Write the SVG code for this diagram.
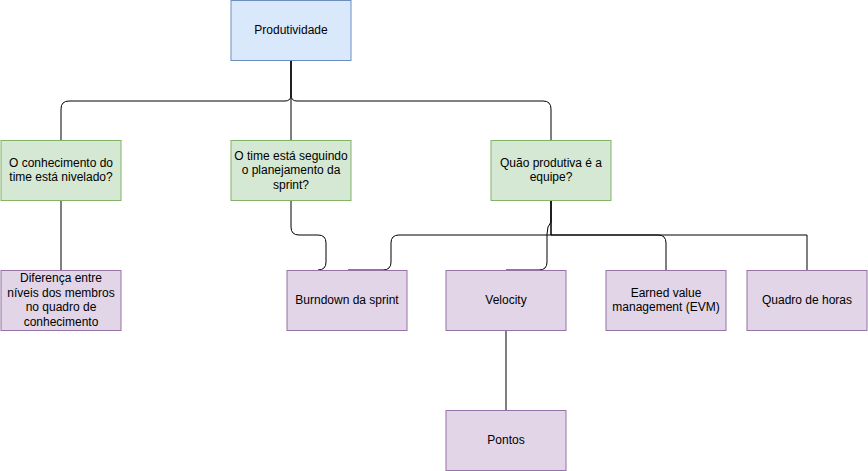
<svg xmlns="http://www.w3.org/2000/svg" width="868" height="471" viewBox="0 0 868 471">
<style>
rect{stroke-width:1}
.b{fill:#dae8fc;stroke:#6c8ebf}
.g{fill:#d5e8d4;stroke:#82b366}
.p{fill:#e1d5e7;stroke:#9673a6}
text{font-family:"Liberation Sans",Arial,Helvetica,sans-serif;font-size:12px;fill:#000;text-anchor:middle}
.e path{fill:none;stroke:#000;stroke-width:1}
</style>
<rect width="868" height="471" fill="#fff"/>
<g class="e" id="connectors">
<path d="M291 60 V95 Q291 101 285 101 H69 Q61 101 61 109 V140"/>
<path d="M291 60 V95 Q291 101 297 101 H543 Q551 101 551 109 V140"/>
<path d="M291 60 V140"/>
<path d="M61 200 V270"/>
<path d="M291 200 V227 Q291 235 299 235 H318 Q326 235 326 243 V262 Q326 270 318 270"/>
<path d="M551 200 V235 H399 Q391 235 391 243 V262 Q391 270 383 270 H348"/>
<path d="M551 200 V222 Q547 226 547 234 V262 Q547 270 539 270 H506"/>
<path d="M551 200 V235 H658 Q666 235 666 243 V270"/>
<path d="M551 235 H807 V270"/>
<path d="M551 200 H580"/>
<path d="M506 330 V410"/>
</g>
<g id="n-produtividade"><rect class="b" x="231" y="0.5" width="120" height="60"/><text x="291" y="34">Produtividade</text></g>
<g id="n-conhecimento"><rect class="g" x="1" y="140.5" width="120" height="60"/><text x="61" y="167">O conhecimento do</text><text x="61" y="181">time está nivelado?</text></g>
<g id="n-planejamento"><rect class="g" x="231" y="140.5" width="120" height="60"/><text x="291" y="160">O time está seguindo</text><text x="291" y="174">o planejamento da</text><text x="291" y="189">sprint?</text></g>
<g id="n-produtiva"><rect class="g" x="491" y="140.5" width="120" height="60"/><text x="551" y="167">Quão produtiva é a</text><text x="551" y="181">equipe?</text></g>
<g id="n-diferenca"><rect class="p" x="1" y="270.5" width="120" height="60"/><text x="61" y="282">Diferença entre</text><text x="61" y="297">níveis dos membros</text><text x="61" y="311">no quadro de</text><text x="61" y="326">conhecimento</text></g>
<g id="n-burndown"><rect class="p" x="287" y="270.5" width="120" height="60"/><text x="347" y="304">Burndown da sprint</text></g>
<g id="n-velocity"><rect class="p" x="446" y="270.5" width="120" height="60"/><text x="506" y="304">Velocity</text></g>
<g id="n-evm"><rect class="p" x="606" y="270.5" width="120" height="60"/><text x="666" y="297">Earned value</text><text x="666" y="311">management (EVM)</text></g>
<g id="n-quadro"><rect class="p" x="747" y="270.5" width="120" height="60"/><text x="807" y="304">Quadro de horas</text></g>
<g id="n-pontos"><rect class="p" x="446" y="410.5" width="120" height="60"/><text x="506" y="444">Pontos</text></g>
</svg>
